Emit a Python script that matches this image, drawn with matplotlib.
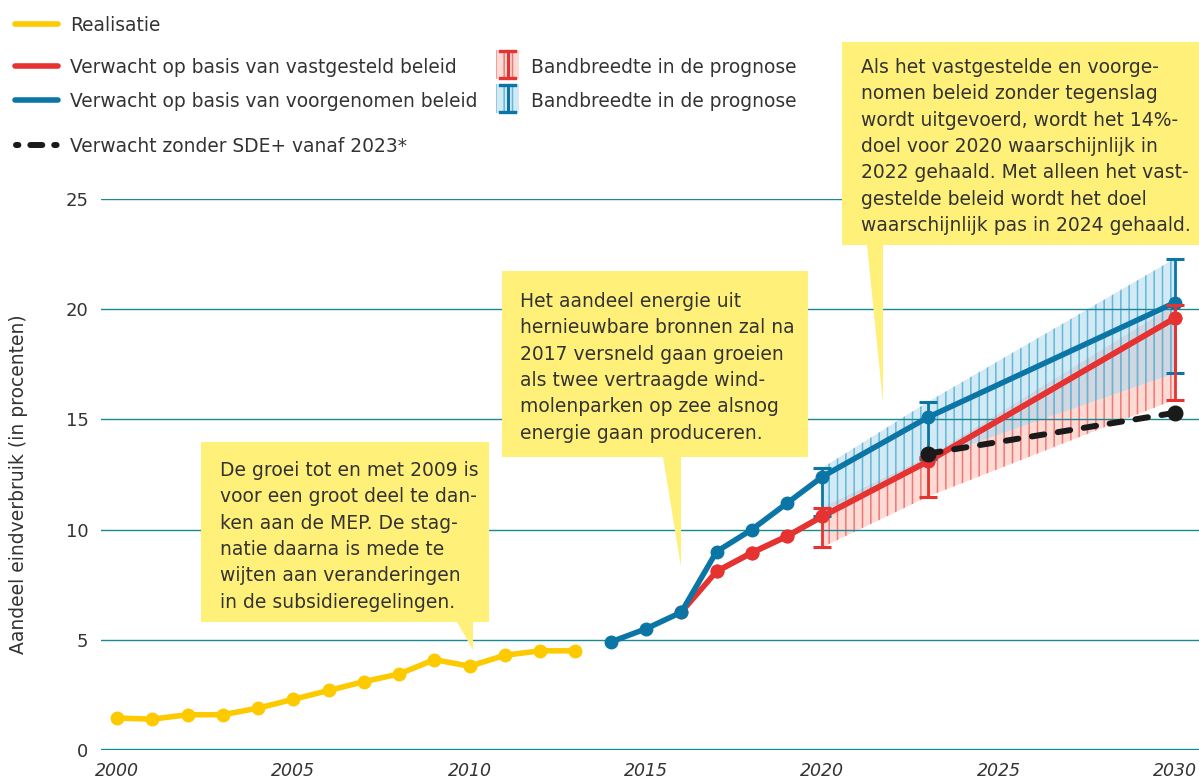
import matplotlib
matplotlib.use('Agg')
import matplotlib.pyplot as plt
from matplotlib.lines import Line2D
from matplotlib.patches import Polygon, Rectangle

# Realisatie (aandeel hernieuwbare energie, procenten)
years_real = [2000, 2001, 2002, 2003, 2004, 2005, 2006, 2007, 2008, 2009,
              2010, 2011, 2012, 2013]
share_real = [1.45, 1.4, 1.6, 1.6, 1.9, 2.3, 2.7, 3.1, 3.45, 4.1,
              3.8, 4.3, 4.5, 4.5]

# Verwacht op basis van vastgesteld beleid
years_vast = [2016, 2017, 2018, 2019, 2020, 2023, 2030]
share_vast = [6.25, 8.1, 8.95, 9.7, 10.6, 13.1, 19.6]

# Verwacht op basis van voorgenomen beleid
years_voor = [2014, 2015, 2016, 2017, 2018, 2019, 2020, 2023, 2030]
share_voor = [4.9, 5.5, 6.25, 9.0, 10.0, 11.2, 12.4, 15.1, 20.3]

# Bandbreedte in de prognose
years_band = [2020, 2023, 2030]
vast_low = [9.2, 11.5, 15.9]
vast_high = [11.0, 13.3, 20.2]
voor_low = [10.6, 13.2, 17.1]
voor_high = [12.8, 15.8, 22.3]

# Verwacht zonder SDE+ vanaf 2023
years_zonder = [2023, 2030]
share_zonder = [13.45, 15.3]

y_ticks = [0, 5, 10, 15, 20, 25]
x_ticks = [2000, 2005, 2010, 2015, 2020, 2025, 2030]

legend_labels = ['Realisatie',
                 'Verwacht op basis van vastgesteld beleid',
                 'Verwacht op basis van voorgenomen beleid',
                 'Verwacht zonder SDE+ vanaf 2023*']
band_label = 'Bandbreedte in de prognose'
y_label = 'Aandeel eindverbruik (in procenten)'

callout_texts = [
    'De groei tot en met 2009 is\nvoor een groot deel te dan-\n'
    'ken aan de MEP. De stag-\nnatie daarna is mede te\n'
    'wijten aan veranderingen\nin de subsidieregelingen.',
    'Het aandeel energie uit\nhernieuwbare bronnen zal na\n'
    '2017 versneld gaan groeien\nals twee vertraagde wind-\n'
    'molenparken op zee alsnog\nenergie gaan produceren.',
    'Als het vastgestelde en voorge-\nnomen beleid zonder tegenslag\n'
    'wordt uitgevoerd, wordt het 14%-\ndoel voor 2020 waarschijnlijk in\n'
    '2022 gehaald. Met alleen het vast-\ngestelde beleid wordt het doel\n'
    'waarschijnlijk pas in 2024 gehaald.',
]

YELLOW = '#fdca00'
RED = '#e63331'
BLUE = '#0b76a6'
BLACK = '#1a1a1a'
TEAL = '#1b8896'
TEXT = '#333333'
NOTE = '#fff07a'

W, H = 1199, 781


def fx(x):
    return x / W


def fy(y):
    return 1 - y / H


plt.rcParams['font.family'] = ['DejaVu Sans']
plt.rcParams['hatch.linewidth'] = 1.1

fig = plt.figure(figsize=(W / 100, H / 100), dpi=100)
ax = fig.add_axes([fx(101), fy(750), (W - 101) / W, 551 / H])

px_per_year = (1175 - 117) / 30
ax.set_xlim(2000 - 16 / px_per_year, 2000 + (W - 117) / px_per_year)
ax.set_ylim(0, 25)
for s in ax.spines.values():
    s.set_visible(False)
ax.set_axisbelow('line')
ax.set_yticks(y_ticks)
ax.set_xticks(x_ticks)
ax.grid(axis='y', color=TEAL, lw=1.0)
ax.grid(axis='x', visible=False)
ax.axhline(0, color='#0a8d96', lw=2.4, zorder=1.6)
ax.tick_params(length=0, colors=TEXT)
ax.tick_params(axis='y', pad=9, labelsize=13)
ax.tick_params(axis='x', pad=9, labelsize=12.5)
for lab in ax.get_xticklabels():
    lab.set_fontstyle('italic')

# bands
ax.fill_between(years_band, vast_low, vast_high, facecolor=(0.98, 0.72, 0.68, 0.5),
                edgecolor='#f27676', hatch='||', lw=0, zorder=1)
ax.fill_between(years_band, voor_low, voor_high, facecolor=(0.66, 0.83, 0.92, 0.5),
                edgecolor='#5fb9dc', hatch='||', lw=0, zorder=1.1)

lw, ms = 4, 9
ax.plot(years_real, share_real, color=YELLOW, lw=lw, marker='o', ms=ms,
        clip_on=False, zorder=3)

voor_at = dict(zip(years_voor, share_voor))
vast_at = dict(zip(years_vast, share_vast))

ax.plot(years_vast, share_vast, color=RED, lw=lw, marker='o', ms=ms,
        clip_on=False, zorder=3)
ax.plot(years_voor, share_voor, color=BLUE, lw=lw, marker='o', ms=ms,
        clip_on=False, zorder=3.2)
yv = [voor_at[y] for y in years_band]
ax.errorbar(years_band, yv,
            yerr=[[a - b for a, b in zip(yv, voor_low)],
                  [b - a for a, b in zip(yv, voor_high)]],
            fmt='none', ecolor=BLUE, elinewidth=2, capsize=6.5, capthick=2.2,
            zorder=3.3, clip_on=False)
# red line again from 2017 so it stays on top of the blue one after the split
ax.plot(years_vast[1:], share_vast[1:], color=RED, lw=lw, marker='o', ms=ms,
        clip_on=False, zorder=3.4)
yr = [vast_at[y] for y in years_band]
ax.errorbar(years_band, yr,
            yerr=[[a - b for a, b in zip(yr, vast_low)],
                  [b - a for a, b in zip(yr, vast_high)]],
            fmt='none', ecolor=RED, elinewidth=2, capsize=6.5, capthick=2.2,
            zorder=3.5, clip_on=False)
ax.plot(years_zonder, share_zonder, color=BLACK, lw=4.3, marker='o', ms=10.5,
        dashes=(2.1, 2.3), dash_capstyle='round', clip_on=False, zorder=3.6)

fig.text(fx(19), fy(484), y_label, rotation=90, ha='center', va='center',
         fontsize=13.5, color=TEXT)

# legend
rows = [31, 73, 107, 152]
colors = [YELLOW, RED, BLUE, BLACK]
for i, (lab, c) in enumerate(zip(legend_labels, colors)):
    yb = rows[i]
    yl = yb - 7
    if i == 3:
        fig.add_artist(Line2D([fx(16), fx(58)], [fy(yl), fy(yl)], color=c, lw=4.3,
                              dashes=(0.4, 2.0, 2.0, 2.0), dash_capstyle='round'))
    else:
        fig.add_artist(Line2D([fx(15), fx(58)], [fy(yl), fy(yl)], color=c, lw=4,
                              solid_capstyle='round'))
    fig.text(fx(70), fy(yb), lab, ha='left', va='baseline', fontsize=13.4,
             color=TEXT)

for yb, c, face, hatch_c in [(73, RED, (0.98, 0.72, 0.68, 0.5), '#f27676'),
                             (107, BLUE, (0.66, 0.83, 0.92, 0.5), '#5fb9dc')]:
    top, bot = yb - 23, yb + 6
    fig.add_artist(Rectangle((fx(496), fy(bot)), 23 / W, (bot - top) / H,
                             facecolor=face, edgecolor=hatch_c, hatch='||', lw=0))
    fig.add_artist(Line2D([fx(507.5), fx(507.5)], [fy(top + 1), fy(bot - 1)],
                          color=c, lw=2.2))
    for yy in (top + 1, bot - 1):
        fig.add_artist(Line2D([fx(500), fx(515)], [fy(yy), fy(yy)], color=c, lw=2.4))
    fig.text(fx(531), fy(yb), band_label, ha='left', va='baseline',
             fontsize=13.4, color=TEXT)

# callouts: box (x0, y0, x1, y1), pointer base (b0, b1), tip, text top-left
callouts = [
    ((201, 442, 489, 622), (457, 473), (473, 650), (220, 461)),
    ((502, 271, 808, 457), (663, 681), (681, 567), (520, 292)),
    ((842, 42, 1205, 245), (867, 883), (883, 403), (861, 58)),
]
for (box, base, tip, tpos), txt in zip(callouts, callout_texts):
    x0, y0, x1, y1 = box
    pts = [(x0, y0), (x1, y0), (x1, y1), (base[1], y1), tip, (base[0], y1),
           (x0, y1)]
    fig.add_artist(Polygon([(fx(a), fy(b)) for a, b in pts], closed=True,
                           facecolor=NOTE, edgecolor='none', zorder=5))
    fig.text(fx(tpos[0]), fy(tpos[1]), txt, ha='left', va='top', fontsize=13.5,
             color=TEXT, linespacing=1.49, zorder=6)

fig.savefig('out.png', dpi=100)
